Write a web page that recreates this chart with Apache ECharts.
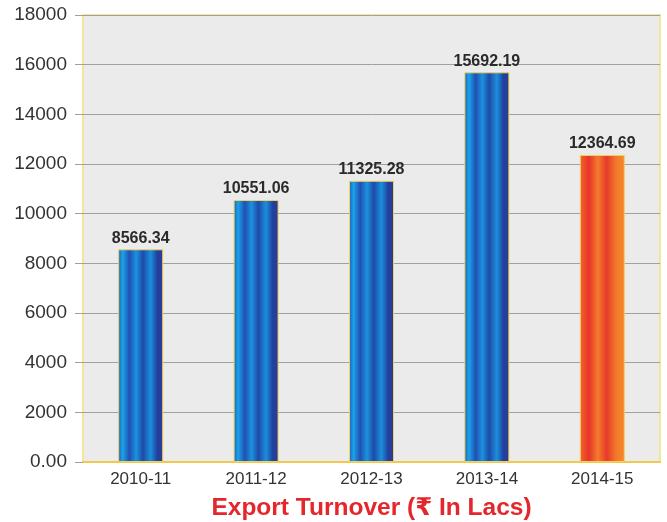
<!DOCTYPE html>
<html><head><meta charset="utf-8">
<script src="https://cdn.jsdelivr.net/npm/echarts@6/dist/echarts.min.js"></script>
<style>html,body{margin:0;padding:0;background:#fff}#c{width:667px;height:522px}</style>
</head><body><div id="c"></div>
<script>
var categories = ['2010-11','2011-12','2012-13','2013-14','2014-15'];
var turnover = [8566.34, 10551.06, 11325.28, 15692.19, 12364.69];
var yTicks = {min: 0, max: 18000, interval: 2000};
var xTitle = 'Export Turnover (\u20B9 In Lacs)';

var blueFill = new echarts.graphic.LinearGradient(0,0,1,0,[
  {offset:0,color:'#1d5cbd'},{offset:0.1,color:'#1aa3e8'},{offset:0.25,color:'#2150b2'},
  {offset:0.4,color:'#1b92df'},{offset:0.55,color:'#1f4aa8'},{offset:0.72,color:'#1a8fdc'},
  {offset:0.87,color:'#22409e'},{offset:1,color:'#2b3c96'}]);
var redFill = new echarts.graphic.LinearGradient(0,0,1,0,[
  {offset:0,color:'#f06a2a'},{offset:0.2,color:'#e8332b'},{offset:0.4,color:'#f37b2b'},
  {offset:0.6,color:'#e83a2a'},{offset:0.8,color:'#f3782a'},{offset:1,color:'#f58a2c'}]);

var chart = echarts.init(document.getElementById('c'), null, {renderer:'canvas'});
chart.setOption({
  animation:false,
  grid:{left:83,right:7,top:15,bottom:60,outerBoundsMode:'none',containLabel:false,show:true,backgroundColor:'#ebebeb',borderColor:'#f3e59a',borderWidth:2},
  xAxis:{type:'category',data:categories,
    axisLine:{lineStyle:{color:'#f2c94c',width:2}},axisTick:{show:false},
    axisLabel:{color:'#333',fontSize:17,fontFamily:'"Liberation Sans",Arial,sans-serif',margin:9},
    name:xTitle,nameLocation:'middle',nameGap:34,
    nameTextStyle:{color:'#e4262d',fontSize:24.5,fontWeight:'bold',fontFamily:'"Liberation Sans","DejaVu Sans",sans-serif'}},
  yAxis:{type:'value',min:yTicks.min,max:yTicks.max,interval:yTicks.interval,
    axisLine:{show:false},axisTick:{show:true,length:8,lineStyle:{color:'#a0a0a0'}},
    splitLine:{lineStyle:{color:'#a0a0a0',width:1}},
    axisLabel:{color:'#333',fontSize:19,fontFamily:'"Liberation Sans",Arial,sans-serif',margin:16,
      formatter:function(v){return v===0?'0.00':String(v);}}},
  series:[{type:'bar',barWidth:45,
    data:turnover.map(function(v,i){return {value:v,itemStyle:{color:i===4?redFill:blueFill}};}),
    itemStyle:{borderColor:'#f2d25a',borderWidth:1},
    label:{show:true,position:'top',distance:3,color:'#2a2a2a',fontSize:16,fontWeight:'bold',
      fontFamily:'"Liberation Sans",Arial,sans-serif',
      formatter:function(p){return p.value.toFixed(2);}}}]
});
</script></body></html>
